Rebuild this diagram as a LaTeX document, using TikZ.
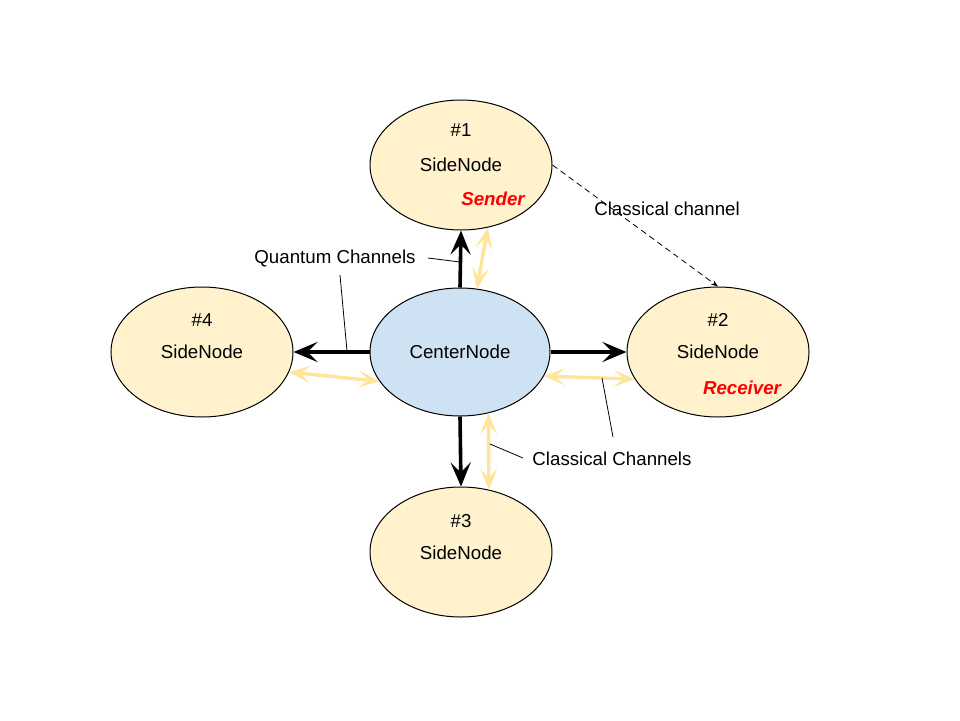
\documentclass[tikz,border=0pt]{standalone}
\usepackage{fontspec}
\setmainfont{Liberation Sans}
\usetikzlibrary{arrows.meta,shapes.geometric}
\definecolor{sidefill}{HTML}{FFF2CC}
\definecolor{centerfill}{HTML}{CFE2F3}
\definecolor{cyel}{HTML}{FFE599}
\definecolor{cred}{HTML}{FF0000}
\begin{document}
\begin{tikzpicture}[x=1pt,y=-1pt,
  every node/.style={font=\fontsize{18.7}{22}\selectfont, inner sep=0pt},
  sidenode/.style={ellipse, draw=black, line width=1pt, fill=sidefill, minimum width=182pt, minimum height=130pt},
  centernode/.style={ellipse, draw=black, line width=1pt, fill=centerfill, minimum width=180pt, minimum height=128pt},
  qarrow/.style={line width=3.6pt, -{Stealth[length=24pt,width=20pt,inset=10pt]}},
  carrow/.style={line width=3.4pt, cyel, {Stealth[length=21pt,width=17pt,inset=10pt]}-{Stealth[length=21pt,width=17pt,inset=10pt]}},
  callout/.style={line width=0.8pt, draw=black},
  tag/.style={text=cred, font=\fontsize{18.7}{22}\selectfont\bfseries\itshape}
]
\useasboundingbox (0,0) rectangle (960,720);
\fill[white] (0,0) rectangle (960,720);

% nodes
\node[centernode] (c) at (460,352) {};
\node[sidenode] (n1) at (461,165) {};
\node[sidenode] (n2) at (718,352) {};
\node[sidenode] (n3) at (461,552) {};
\node[sidenode] (n4) at (202,352) {};

\node (c-t) at (460,352) {CenterNode};
\node (n1-a) at (461,130) {\#1};
\node (n1-b) at (461,165) {SideNode};
\node[tag] (n1-c) at (493,199) {Sender};
\node (n2-a) at (718,320) {\#2};
\node (n2-b) at (718,352) {SideNode};
\node[tag] (n2-c) at (742,388) {Receiver};
\node (n3-a) at (461,521) {\#3};
\node (n3-b) at (461,553) {SideNode};
\node (n4-a) at (202,320) {\#4};
\node (n4-b) at (202,352) {SideNode};

% quantum channels
\draw[qarrow] (c.north) -- (n1.south);
\draw[qarrow] (c.west) -- (n4.east);
\draw[qarrow] (c.east) -- (n2.west);
\draw[qarrow] (c.south) -- (n3.north);

% classical channels
\draw[carrow] (c.75) -- (n1.-67);
\draw[carrow] (n4.-13) -- (c.200);
\draw[carrow] (c.-16) -- (n2.198);
\draw[carrow] (c.-65) -- (n3.66);

% dashed classical channel
\draw[line width=0.8pt, dash pattern=on 6pt off 4pt, -{Stealth[length=7pt,width=5pt]}] (n1.east) -- (n2.north);
\node (cc) at (667,209) {Classical channel};

% callouts
\node (ql) at (335,258) {Quantum Channels};
\coordinate (q1a) at (428,258);
\coordinate (q1b) at (460,262);
\coordinate (q2a) at (340,275);
\coordinate (q2b) at (347,351);
\draw[callout] (q1a) -- (q1b);
\draw[callout] (q2a) -- (q2b);

\node (cl) at (612,459) {Classical Channels};
\coordinate (c1a) at (523,458);
\coordinate (c1b) at (490,444);
\coordinate (c2a) at (613,437);
\coordinate (c2b) at (602,378);
\draw[callout] (c1a) -- (c1b);
\draw[callout] (c2a) -- (c2b);
\end{tikzpicture}
\end{document}
